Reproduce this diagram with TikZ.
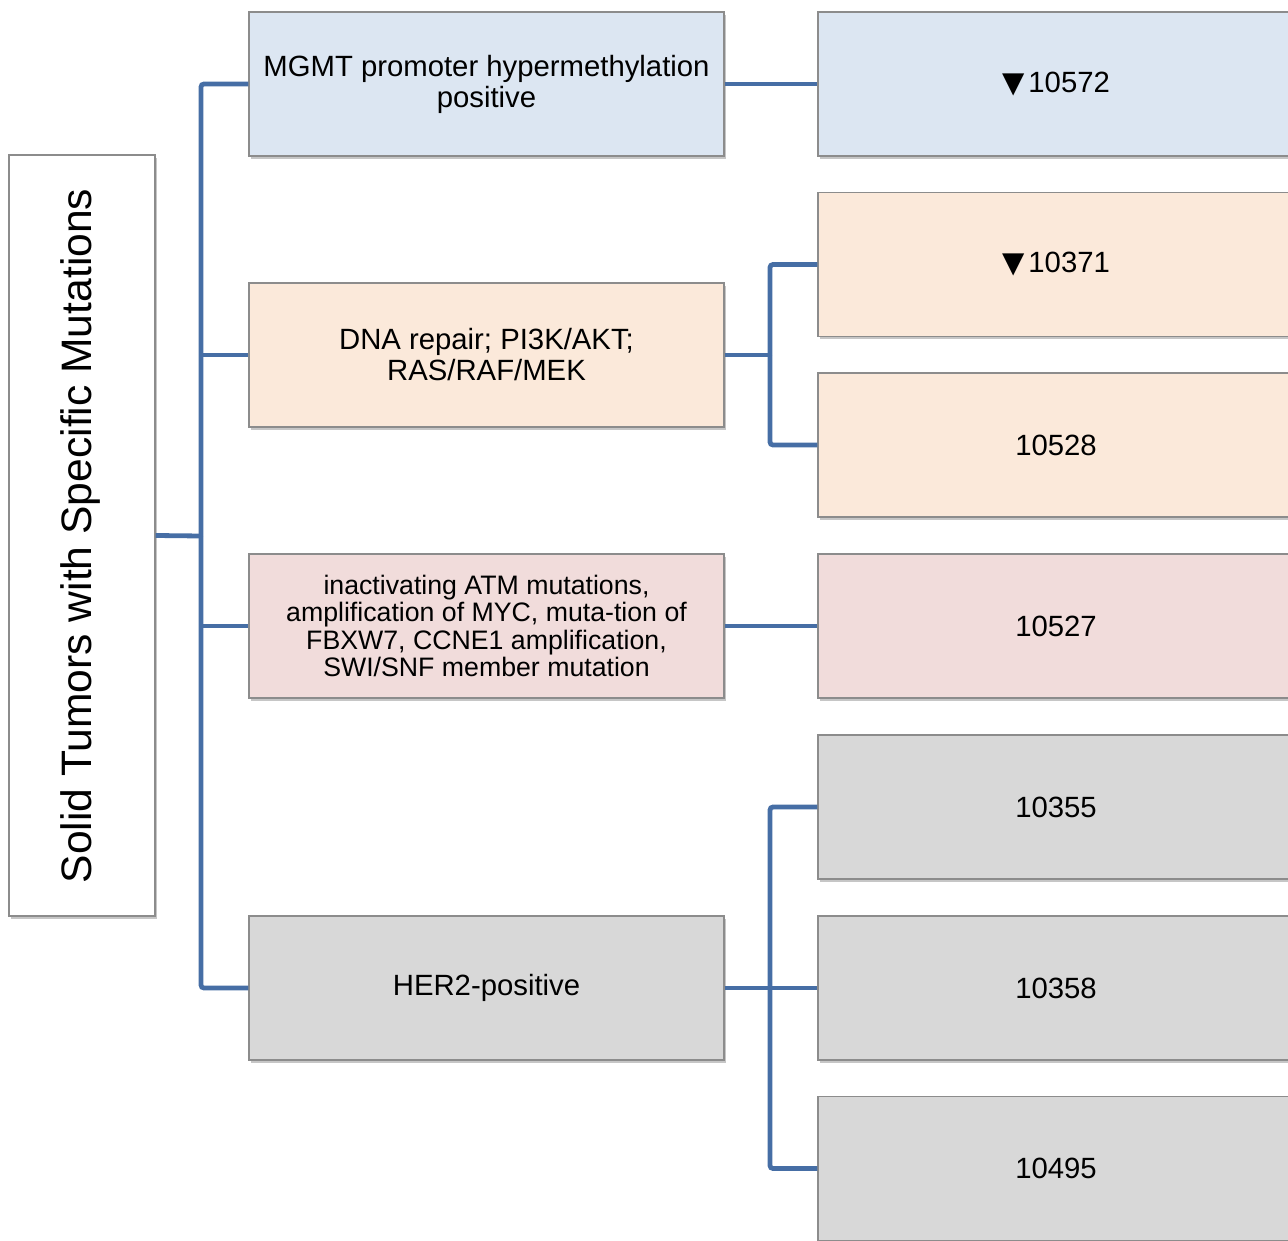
\documentclass[tikz,border=0pt]{standalone}
\usepackage{fontspec}
\setmainfont{Liberation Sans}
\newfontfamily\symfont{DejaVu Sans}
\usetikzlibrary{shadows}
\definecolor{linkblue}{RGB}{70,110,165}
\definecolor{edgegray}{RGB}{140,140,140}
\definecolor{fblue}{RGB}{220,230,242}
\definecolor{forange}{RGB}{251,233,218}
\definecolor{fpink}{RGB}{241,220,219}
\definecolor{fgray}{RGB}{216,216,216}
\newcommand{\downtri}{{\symfont\fontsize{29}{31}\selectfont ▼}\hspace{4pt}}
\tikzset{
  box/.style={draw=edgegray, line width=1.4pt, inner sep=0pt, align=center,
    drop shadow={opacity=0.45, shadow xshift=1.5pt, shadow yshift=-3pt}},
  midbox/.style={box, minimum width=475pt, minimum height=144pt,
    font=\fontsize{29.3}{31}\selectfont},
  rightbox/.style={box, minimum width=476pt, minimum height=144pt,
    font=\fontsize{29.3}{31}\selectfont},
  link/.style={draw=linkblue, line width=4.8pt, rounded corners=3pt}
}
\begin{document}
\begin{tikzpicture}[x=1pt,y=-1pt]
\useasboundingbox (0,0) rectangle (1288,1241);
\clip (0,0) rectangle (1288,1241);
% root
\node[box, fill=white, minimum width=146pt, minimum height=761pt] (root) at (82,535.5) {};
\node[rotate=90, font=\fontsize{42.6}{46}\selectfont] (roottext) at (80,536) {Solid Tumors with Specific Mutations};
% middle boxes
\node[midbox, fill=fblue] (mgmt) at (486.5,84) {MGMT promoter hypermethylation\\positive};
\node[midbox, fill=forange] (dna) at (486.5,355) {DNA repair; PI3K/AKT;\\RAS/RAF/MEK};
\node[midbox, fill=fpink, font=\fontsize{26.7}{27.6}\selectfont] (atm) at (486.5,626) {inactivating ATM mutations,\\amplification of MYC, muta-tion of\\FBXW7, CCNE1 amplification,\\SWI/SNF member mutation};
\node[midbox, fill=fgray] (her2) at (486.5,988) {HER2-positive};
% right boxes
\node[rightbox, fill=fblue] (r10572) at (1056,84) {\downtri 10572};
\node[rightbox, fill=forange] (r10371) at (1056,264.5) {\downtri 10371};
\node[rightbox, fill=forange] (r10528) at (1056,445) {10528};
\node[rightbox, fill=fpink] (r10527) at (1056,626) {10527};
\node[rightbox, fill=fgray] (r10355) at (1056,807) {10355};
\node[rightbox, fill=fgray] (r10358) at (1056,988) {10358};
\node[rightbox, fill=fgray] (r10495) at (1056,1168.5) {10495};
% connectors from root
\coordinate (trunk) at (201,536);
\draw[link] (root.east) -- (trunk);
\draw[link] (trunk) |- (mgmt.west);
\draw[link] (trunk) |- (her2.west);
\draw[link] (trunk |- dna.west) -- (dna.west);
\draw[link] (trunk |- atm.west) -- (atm.west);
% right connectors
\draw[link] (mgmt.east) -- (r10572.west);
\draw[link] (atm.east) -- (r10527.west);
\coordinate (dnaj) at (770,355);
\draw[link] (dna.east) -- (dnaj);
\draw[link] (dnaj) |- (r10371.west);
\draw[link] (dnaj) |- (r10528.west);
\coordinate (herj) at (770,988);
\draw[link] (her2.east) -- (herj);
\draw[link] (herj) |- (r10355.west);
\draw[link] (herj) |- (r10495.west);
\draw[link] (herj) -- (r10358.west);
\end{tikzpicture}
\end{document}
